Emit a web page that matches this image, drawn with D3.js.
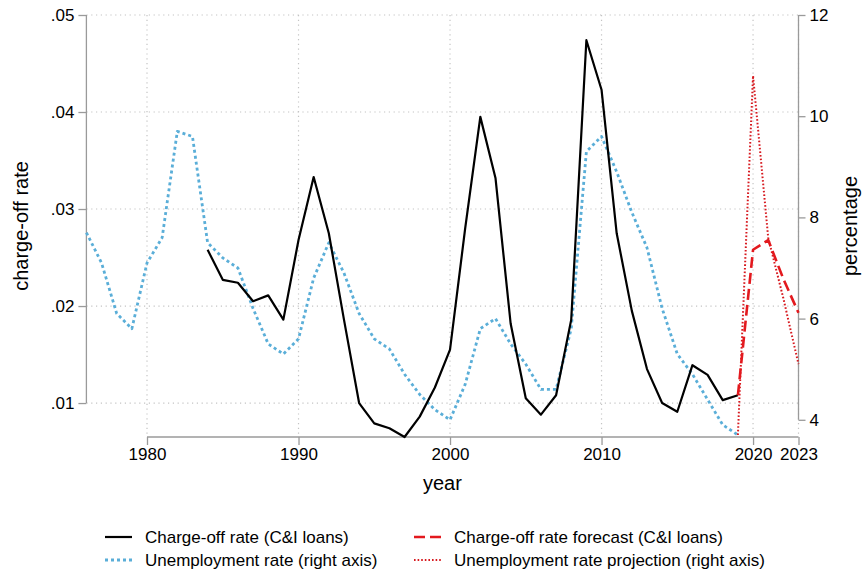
<!DOCTYPE html>
<html><head><meta charset="utf-8">
<script src="https://cdn.jsdelivr.net/npm/d3@7"></script>
<style>
body{margin:0;background:#fff}
text{font-family:"Liberation Sans",Arial,sans-serif;fill:#000}
</style>
</head><body>
<svg id="c" width="866" height="575"></svg>
<script>
// ---- data ----
const chargeYears = d3.range(1984, 2020);
const chargeOff = [0.0258,0.0227,0.0224,0.0205,0.0211,0.0186,0.0268,0.0333,0.0275,0.0186,
                   0.0100,0.0079,0.0074,0.0065,0.0086,0.0116,0.0155,0.0280,0.0395,0.0332,
                   0.0182,0.0105,0.0088,0.0108,0.0186,0.0474,0.0423,0.0275,0.0195,0.0135,
                   0.0100,0.0091,0.0139,0.0129,0.0103,0.0108];
const unempYears = d3.range(1976, 2020);
const unemp = [7.7,7.1,6.1,5.8,7.1,7.6,9.7,9.6,7.5,7.2,7.0,6.2,5.5,5.3,5.6,6.8,7.5,6.9,6.1,5.6,
               5.4,4.9,4.5,4.2,4.0,4.7,5.8,6.0,5.5,5.1,4.6,4.6,5.8,9.3,9.6,8.9,8.1,7.4,6.2,5.3,
               4.9,4.4,3.9,3.7];
const forecastYears = [2019,2020,2021,2022,2023];
const chargeForecast = [0.0108,0.0258,0.0268,0.0228,0.0193];
const projYears = [2019,2020,2021,2022,2023];
const unempProj = [3.7,10.8,7.6,6.4,5.1];
const xTicks = [1980,1990,2000,2010,2020,2023];
const leftTicks = [0.01,0.02,0.03,0.04,0.05];
const leftLabels = [".01",".02",".03",".04",".05"];
const rightTicks = [4,6,8,10,12];
const legendItems = [
  {label:"Charge-off rate (C&I loans)", key:"co"},
  {label:"Charge-off rate forecast (C&I loans)", key:"cf"},
  {label:"Unemployment rate (right axis)", key:"un"},
  {label:"Unemployment rate projection (right axis)", key:"up"}
];

// ---- layout ----
const L = 86.4, R = 798.5, T = 15, B = 437;
const svg = d3.select("#c");
const x = d3.scaleLinear().domain([1976, 2023]).range([L, R]);
const yL = d3.scaleLinear().domain([0.0065, 0.05]).range([B, T]);
const yR = d3.scaleLinear().domain([3.66, 12]).range([B, T]);

const styles = {
  co:{stroke:"#000", w:2.2, dash:null},
  cf:{stroke:"#e3191e", w:2.6, dash:"11,5"},
  un:{stroke:"#5aaed8", w:2.8, dash:"3,3"},
  up:{stroke:"#d7191f", w:2, dash:"1.6,2"}
};
const gridC = "#c4c4c4", axisC = "#9a9a9a";

// gridlines
svg.append("g").selectAll("line").data(leftTicks).join("line")
  .attr("x1", L).attr("x2", R).attr("y1", d=>yL(d)).attr("y2", d=>yL(d))
  .attr("stroke", gridC).attr("stroke-width",1.2).attr("stroke-dasharray","1.2,3.6");
svg.append("g").selectAll("line").data(xTicks).join("line")
  .attr("x1", d=>x(d)).attr("x2", d=>x(d)).attr("y1", T).attr("y2", B)
  .attr("stroke", gridC).attr("stroke-width",1.2).attr("stroke-dasharray","1.2,3.6");

// axes
const axL = d3.axisLeft(yL).tickValues(leftTicks).tickFormat((d,i)=>leftLabels[i]).tickSize(8).tickPadding(4);
const gL = svg.append("g").attr("transform",`translate(${L},0)`).call(axL);
const axR = d3.axisRight(yR).tickValues(rightTicks).tickSize(7).tickPadding(4);
const gR = svg.append("g").attr("transform",`translate(${R},0)`).call(axR);
const axB = d3.axisBottom(x).tickValues(xTicks).tickFormat(d3.format("d")).tickSize(8).tickPadding(3);
const gB = svg.append("g").attr("transform",`translate(0,${B})`).call(axB);
[gL,gR,gB].forEach(g=>{
  g.select(".domain").remove();
  g.selectAll(".tick line").attr("stroke", axisC).attr("stroke-width",1.3);
  g.selectAll(".tick text").attr("font-size",17).attr("fill","#000")
   .attr("font-family",'"Liberation Sans",Arial,sans-serif');
});
// axis lines spanning tick range
svg.append("line").attr("x1",L).attr("x2",L).attr("y1",yL(0.05)).attr("y2",yL(0.01))
  .attr("stroke",axisC).attr("stroke-width",1.3);
svg.append("line").attr("x1",R).attr("x2",R).attr("y1",yR(12)).attr("y2",yR(4))
  .attr("stroke",axisC).attr("stroke-width",1.3);
svg.append("line").attr("x1",x(1980)).attr("x2",x(2023)).attr("y1",B).attr("y2",B)
  .attr("stroke",axisC).attr("stroke-width",1.3);

// series
function draw(xs, ys, yScale, st){
  const line = d3.line().x((d,i)=>x(xs[i])).y(d=>yScale(d));
  svg.append("path").datum(ys).attr("d", line).attr("fill","none")
    .attr("stroke", st.stroke).attr("stroke-width", st.w)
    .attr("stroke-dasharray", st.dash).attr("stroke-linejoin","round");
}
draw(unempYears, unemp, yR, styles.un);
draw(chargeYears, chargeOff, yL, styles.co);
draw(projYears, unempProj, yR, styles.up);
draw(forecastYears, chargeForecast, yL, styles.cf);

// axis titles
svg.append("text").attr("transform",`translate(28,${(T+B)/2}) rotate(-90)`)
  .attr("text-anchor","middle").attr("font-size",20).text("charge-off rate");
svg.append("text").attr("transform",`translate(857,${(T+B)/2}) rotate(-90)`)
  .attr("text-anchor","middle").attr("font-size",20).text("percentage");
svg.append("text").attr("x",(L+R)/2).attr("y",490).attr("text-anchor","middle")
  .attr("font-size",20).text("year");

// legend
const legX = [105, 414], legY = [537, 560];
legendItems.forEach((it,i)=>{
  const cx = legX[i%2], cy = legY[Math.floor(i/2)];
  const st = styles[it.key];
  svg.append("line").attr("x1",cx).attr("x2",cx+27).attr("y1",cy).attr("y2",cy)
    .attr("stroke",st.stroke).attr("stroke-width",st.w).attr("stroke-dasharray",st.dash);
  svg.append("text").attr("x",cx+40).attr("y",cy+6).attr("font-size",17).text(it.label);
});
</script>
</body></html>
